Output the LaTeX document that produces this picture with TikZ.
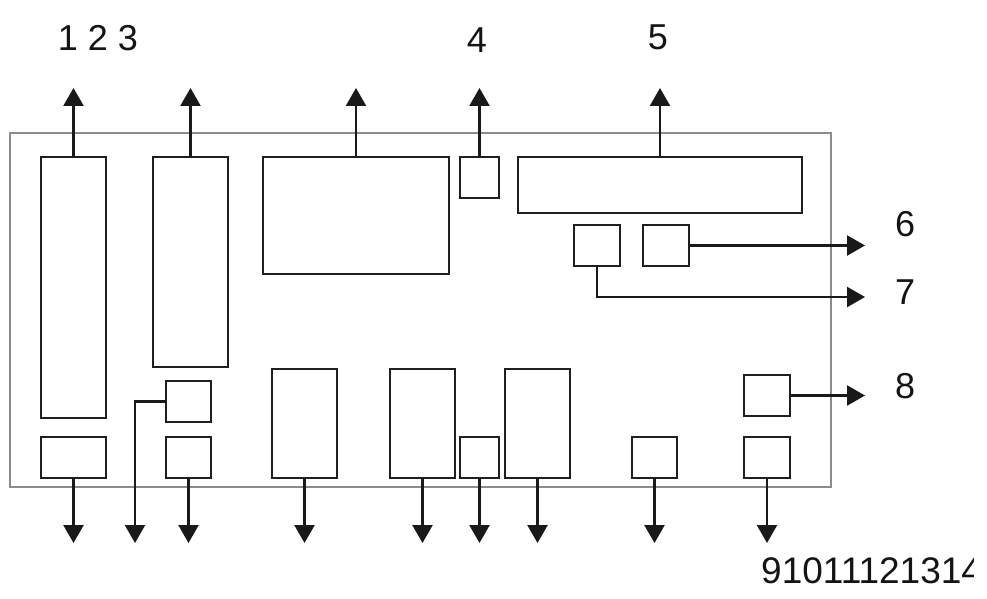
\documentclass[tikz,border=0pt]{standalone}
\usepackage{fontspec}
\setmainfont{Liberation Sans}
\usetikzlibrary{arrows.meta}
\newcommand\mkbox[5]{\node[box,minimum width={#4-#2},minimum height={#5-#3}] (#1) at ({(#2+#4)/2},{(#3+#5)/2}) {};}
\begin{document}
\begin{tikzpicture}[x=1pt,y=-1pt,
  box/.style={draw=black!88,line width=2.6pt,fill=white,inner sep=0pt,outer sep=0pt},
  frame/.style={draw=black!45,line width=2pt},
  arr/.style={draw=black!90,line width=2.4pt,-{Triangle[width=20pt,length=18pt]}},
  lab/.style={font=\fontsize{36}{40}\selectfont,inner sep=0pt,text=black!92}]
\useasboundingbox[fill=white] (0,0) rectangle (987,599);
\node[frame,minimum width=821,minimum height=354,inner sep=0pt] (frm) at (420.5,310) {};
% boxes
\mkbox{A}{41}{157}{106}{418}
\mkbox{B}{153}{157}{228}{367}
\mkbox{C}{263}{157}{449}{274}
\mkbox{D}{460}{157}{499}{198}
\mkbox{E}{518}{157}{802}{213}
\mkbox{F}{574}{225}{620}{266}
\mkbox{G}{643}{225}{689}{266}
\mkbox{H}{41}{437}{106}{478}
\mkbox{I}{166}{381}{211}{422}
\mkbox{J}{166}{437}{211}{478}
\mkbox{K}{272}{369}{337}{478}
\mkbox{L}{390}{369}{455}{478}
\mkbox{M}{460}{437}{499}{478}
\mkbox{N}{505}{369}{570}{478}
\mkbox{O}{632}{437}{677}{478}
\mkbox{P}{744}{375}{790}{416}
\mkbox{Q}{744}{437}{790}{478}
% free ends
\coordinate (topy) at (0,88);
\coordinate (boty) at (0,543);
\coordinate (rx) at (865,0);
\coordinate (r7) at (865,297);
\coordinate (iL) at (135,543);
% top arrows
\foreach \n in {A,B,C,D,E} \draw[arr] (\n.north) -- (\n.north |- topy);
% bottom arrows
\foreach \n in {H,J,K,L,M,N,O,Q} \draw[arr] (\n.south) -- (\n.south |- boty);
\draw[arr] (I.west) -| (iL);
% right arrows
\draw[arr] (G.east) -- (G.east -| rx);
\draw[arr] (F.south) |- (r7);
\draw[arr] (P.east) -- (P.east -| rx);
% labels
\node[lab] (l123) at (98,38) {1 2 3};
\node[lab] (l4) at (477,40) {4};
\node[lab] (l5) at (658,37) {5};
\node[lab] (l6) at (905,224) {6};
\node[lab] (l7) at (905,292) {7};
\node[lab] (l8) at (905,386) {8};
\begin{scope}
\clip (740,540) rectangle (973,599);
\node[lab,anchor=west,font=\fontsize{37}{40}\selectfont] (l9) at (761,571) {91011121314};
\end{scope}
\end{tikzpicture}
\end{document}
